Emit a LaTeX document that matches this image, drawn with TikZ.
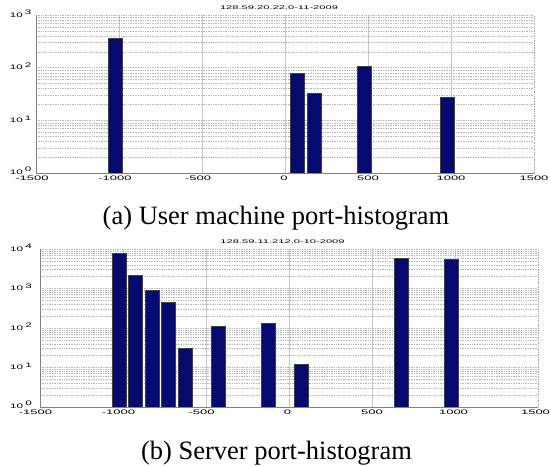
\documentclass[tikz,border=0pt]{standalone}
\usepackage{fontspec}
\setmainfont{Liberation Serif}
\newfontfamily\axisfont{Liberation Sans}
\definecolor{barblue}{RGB}{4,10,112}
% horizontally stretched axis text
\newcommand\widetext[2][2]{\scalebox{#1}[1]{#2}}
\newcommand\decade[1]{\widetext[1.8]{10}\hspace{2.2pt}\raisebox{2.6pt}{\widetext[1.8]{#1}}}
\tikzset{
  histbar/.style={fill=barblue, draw=black!75, line width=0.5pt},
  vgrid/.style={draw=black!22, line width=0.7pt},
  hgrid/.style={draw=black!28, line width=0.35pt, dash pattern=on 0.7pt off 1pt},
  edgegrid/.style={draw=black!35, line width=0.5pt, dash pattern=on 0.7pt off 1pt},
  axisline/.style={draw=black!50, line width=0.8pt},
  ticklabel/.style={font=\axisfont\fontsize{6.5}{7}\selectfont, inner sep=0pt},
  plottitle/.style={font=\axisfont\fontsize{5.3}{6}\selectfont, inner sep=0pt},
  caption/.style={font=\fontsize{26.5}{29}\selectfont, inner sep=0pt, anchor=base},
}
\begin{document}
\begin{tikzpicture}[x=1pt, y=-1pt]
\useasboundingbox (0,0) rectangle (551,466);

% ---------- user machine histogram ----------
\begin{scope}[shift={(285,173)}, x=0.166pt, y=52.67pt]
  \foreach \v in {-1000,-500,0,500,1000} \draw[vgrid] (\v,0) -- (\v,3);
  \draw[edgegrid] (1500,0) -- (1500,3);
  \foreach \k in {1,2,3} \draw[hgrid] (-1500,\k) -- (1500,\k);
  \foreach \k in {0,1,2} {
    \foreach \m in {0.30103,0.47712,0.60206,0.69897,0.77815,0.84510,0.90309,0.95424}
      \draw[hgrid] (-1500,\k+\m) -- (1500,\k+\m);
  }
  \foreach \c/\h in {-1025/2.562, 75/1.898, 175/1.519, 475/2.029, 975/1.441}
    \draw[histbar] (\c-42,0) rectangle (\c+42,\h);
  \draw[axisline] (-1500,3) -- (-1500,0) -- (1500,0);
  \foreach \v/\dx in {-1500/-4,-1000/-4,-500/-4,0/-1,500/0,1000/0,1500/0}
    \node[ticklabel, anchor=north, xshift=\dx pt, yshift=-2.5pt] (ux\v) at (\v,0) {\widetext{\v}};
  \node[ticklabel, anchor=base east, xshift=-4.3pt, yshift=-1.3pt] (uy0) at (-1500,0) {\decade{0}};
  \foreach \k in {1,2,3}
    \node[ticklabel, anchor=base east, xshift=-4.3pt, yshift=-2.3pt] (uy\k) at (-1500,\k) {\decade{\k}};
\end{scope}
\node[plottitle] (utitle) at (279,7.5) {\widetext[2.1]{128.59.20.22,0-11-2009}};
\node[caption] (ucap) at (276,224) {(a) User machine port-histogram};

% ---------- server histogram ----------
\begin{scope}[shift={(289,407)}, x=0.166pt, y=39.5pt]
  \foreach \v in {-1000,-500,0,500,1000} \draw[vgrid] (\v,0) -- (\v,4);
  \draw[edgegrid] (1500,0) -- (1500,4);
  \foreach \k in {1,2,3,4} \draw[hgrid] (-1500,\k) -- (1500,\k);
  \foreach \k in {0,1,2,3} {
    \foreach \m in {0.30103,0.47712,0.60206,0.69897,0.77815,0.84510,0.90309,0.95424}
      \draw[hgrid] (-1500,\k+\m) -- (1500,\k+\m);
  }
  \foreach \c/\h in {-1025/3.892, -925/3.348, -825/2.968, -725/2.658, -625/1.491,
                     -425/2.033, -125/2.111, 75/1.072, 675/3.763, 975/3.740}
    \draw[histbar] (\c-42,0) rectangle (\c+42,\h);
  \draw[axisline] (-1500,4) -- (-1500,0) -- (1500,0);
  \foreach \v/\dx in {-1500/-4.5,-1000/-4.5,-500/-4.5,0/-1.5,500/0,1000/-1.5,1500/-2.5}
    \node[ticklabel, anchor=north, xshift=\dx pt, yshift=-3pt] (sx\v) at (\v,0) {\widetext{\v}};
  \node[ticklabel, anchor=base east, xshift=-8pt, yshift=-1.3pt] (sy0) at (-1500,0) {\decade{0}};
  \foreach \k in {1,2,3,4}
    \node[ticklabel, anchor=base east, xshift=-8pt, yshift=-2.3pt] (sy\k) at (-1500,\k) {\decade{\k}};
\end{scope}
\node[plottitle] (stitle) at (282.5,241.7) {\widetext[2.1]{128.59.11.212,0-10-2009}};
\node[caption] (scap) at (276.5,459) {(b) Server port-histogram};
\end{tikzpicture}
\end{document}
